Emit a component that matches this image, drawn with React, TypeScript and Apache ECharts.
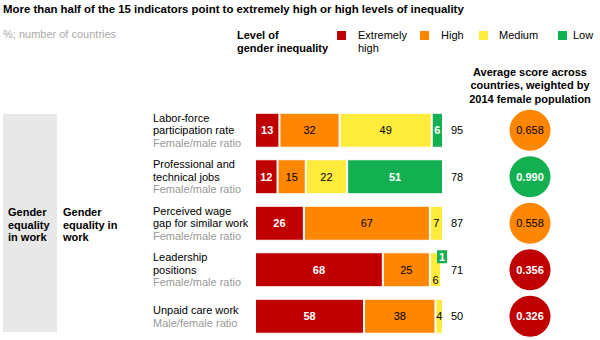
import React, { useEffect, useRef } from "react";
import * as echarts from "echarts";

const rowLabels = [
  "Labor-force\nparticipation rate",
  "Professional and\ntechnical jobs",
  "Perceived wage\ngap for similar work",
  "Leadership\npositions",
  "Unpaid care work",
];
const rowSubLabels = [
  "Female/male ratio",
  "Female/male ratio",
  "Female/male ratio",
  "Female/male ratio",
  "Male/female ratio",
];
const levelNames = ["Extremely\nhigh", "High", "Medium", "Low"];
const levelColors = ["#c00000", "#ff8600", "#ffeb3c", "#12b050"];
const extremelyHigh = [13, 12, 26, 68, 58];
const high = [32, 15, 67, 25, 38];
const medium = [49, 22, 7, 6, 4];
const low = [6, 51, 0, 1, 0];
const countryCounts = [95, 78, 87, 71, 50];
const avgScores = [0.658, 0.99, 0.558, 0.356, 0.326];
const scoreLevel = [1, 3, 1, 0, 0];

const FONT = "'Liberation Sans', Arial, sans-serif";

export default function App() {
  const ref = useRef<HTMLDivElement>(null);
  useEffect(() => {
    if (!ref.current) return;
    const chart = echarts.init(ref.current, undefined, { renderer: "svg" });
    const cats = rowLabels.map((_, i) => String(i));
    const levels = [extremelyHigh, high, medium, low];
    const darkText = [false, true, true, false];

    const barSeries = levels.map((vals, li) => ({
      type: "bar",
      name: levelNames[li],
      stack: "total",
      xAxisIndex: 0,
      yAxisIndex: 0,
      barWidth: 35,
      itemStyle: { color: levelColors[li], borderColor: "#fff", borderWidth: 1 },
      label: {
        show: true,
        position: "inside",
        fontFamily: FONT,
        fontSize: 11,
        color: darkText[li] ? "#000" : "#fff",
        fontWeight: darkText[li] ? "normal" : "bold",
      },
      data: vals.map((v, ri) => {
        const item: any = { value: v };
        if (v === 0) item.label = { show: false };
        else if (li === 2 && ri === 3) {
          item.label = { position: "insideBottom", distance: 2 };
        } else if (li === 3 && v < 3) {
          item.label = {
            position: "insideTop",
            distance: 0,
            backgroundColor: levelColors[3],
            padding: [1, 2, 1, 2],
            offset: [0, -2],
          };
        }
        return item;
      }),
    }));

    const option: any = {
      animation: false,
      textStyle: { fontFamily: FONT },
      grid: [
        { left: 255, width: 188, top: 107, height: 232.5 },
        { left: 510, width: 40, top: 107, height: 232.5 },
      ],
      xAxis: [
        { type: "value", gridIndex: 0, min: 0, max: 100, show: false },
        { type: "value", gridIndex: 1, min: 0, max: 1, show: false },
      ],
      yAxis: [
        {
          type: "category",
          gridIndex: 0,
          data: cats,
          inverse: true,
          position: "left",
          axisLine: { show: false },
          axisTick: { show: false },
          axisLabel: {
            margin: 102,
            align: "left",
            formatter: (_v: string, i: number) =>
              rowLabels[i].split("\n").map((l) => `{a|${l}}`).join("\n") +
              `\n{g|${rowSubLabels[i]}}`,
            rich: {
              a: { fontFamily: FONT, fontSize: 11, color: "#000", lineHeight: 12.5 },
              g: { fontFamily: FONT, fontSize: 11, color: "#999", lineHeight: 12.5 },
            },
          },
        },
        {
          type: "category",
          gridIndex: 0,
          data: countryCounts.map(String),
          inverse: true,
          position: "right",
          axisLine: { show: false },
          axisTick: { show: false },
          axisLabel: { margin: 8, fontFamily: FONT, fontSize: 11, color: "#000" },
        },
        {
          type: "category",
          gridIndex: 1,
          data: cats,
          inverse: true,
          show: false,
        },
      ],
      series: [
        ...barSeries,
        {
          type: "scatter",
          xAxisIndex: 1,
          yAxisIndex: 2,
          symbolSize: 41,
          data: avgScores.map((s, i) => ({
            value: [0.5, i, s],
            itemStyle: { color: levelColors[scoreLevel[i]], opacity: 1 },
            label: {
              color: darkText[scoreLevel[i]] ? "#000" : "#fff",
              fontWeight: darkText[scoreLevel[i]] ? "normal" : "bold",
            },
          })),
          itemStyle: { opacity: 1 },
          label: {
            show: true,
            position: "inside",
            fontFamily: FONT,
            fontSize: 11,
            formatter: (p: any) => p.value[2].toFixed(3),
          },
        },
      ],
      graphic: [
        {
          type: "text",
          left: 3,
          top: 3,
          style: {
            text: "More than half of the 15 indicators point to extremely high or high levels of inequality",
            font: `bold 11.4px ${FONT}`,
            fill: "#000",
          },
        },
        {
          type: "text",
          left: 3,
          top: 28,
          style: { text: "%; number of countries", font: `11px ${FONT}`, fill: "#aaa" },
        },
        {
          type: "text",
          left: 237,
          top: 28,
          style: {
            text: "Level of\ngender inequality",
            font: `bold 11px ${FONT}`,
            fill: "#000",
            lineHeight: 13,
          },
        },
        ...[337, 420, 479, 558].map((x, i) => ({
          type: "rect",
          shape: { x, y: 31, width: 9, height: 9 },
          style: { fill: levelColors[i] },
        })),
        ...[358, 441, 499, 573].map((x, i) => ({
          type: "text",
          left: x,
          top: 28,
          style: {
            text: levelNames[i],
            font: `11px ${FONT}`,
            fill: "#000",
            lineHeight: 13,
          },
        })),
        {
          type: "text",
          x: 530,
          y: 65,
          style: {
            text: "Average score across\ncountries, weighted by\n2014 female population",
            font: `bold 11px ${FONT}`,
            fill: "#000",
            align: "center",
            lineHeight: 13.5,
          },
        },
        {
          type: "rect",
          shape: { x: 3, y: 114, width: 54, height: 218 },
          style: { fill: "#e8e8e8" },
          z: -1,
        },
        {
          type: "text",
          left: 8,
          top: 206,
          style: {
            text: "Gender\nequality\nin work",
            font: `bold 11px ${FONT}`,
            fill: "#000",
            lineHeight: 12.5,
          },
        },
        {
          type: "text",
          left: 63,
          top: 206,
          style: {
            text: "Gender\nequality in\nwork",
            font: `bold 11px ${FONT}`,
            fill: "#000",
            lineHeight: 12.5,
          },
        },
      ],
    };
    chart.setOption(option);
    return () => chart.dispose();
  }, []);
  return (
    <div
      ref={ref}
      style={{ position: "absolute", left: 0, top: 0, width: 600, height: 340 }}
    />
  );
}
